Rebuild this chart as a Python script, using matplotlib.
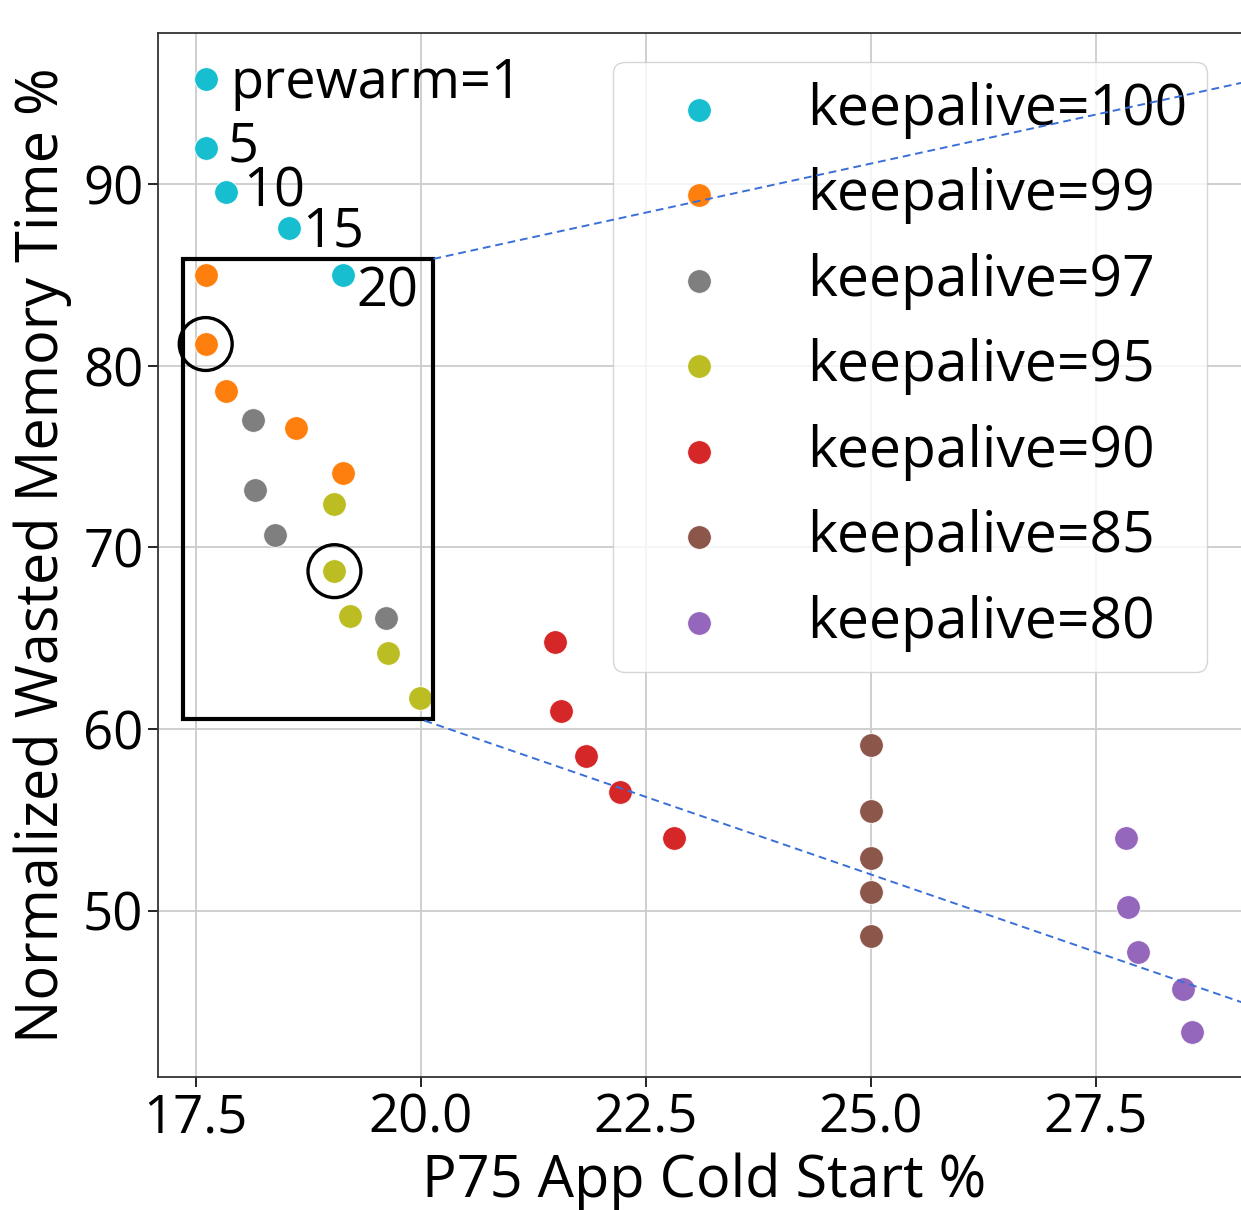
import matplotlib
matplotlib.use("Agg")
import matplotlib.pyplot as plt
from matplotlib.patches import Rectangle

plt.rcParams['font.family'] = ['Open Sans', 'DejaVu Sans']

# P75 app cold start % (x) vs normalized wasted memory time % (y)
# one series per keepalive percentile, points ordered by prewarm = 1, 5, 10, 15, 20
labels = ["keepalive=100", "keepalive=99", "keepalive=97", "keepalive=95",
          "keepalive=90", "keepalive=85", "keepalive=80"]
colors = ["tab:cyan", "tab:orange", "tab:gray", "tab:olive",
          "tab:red", "tab:brown", "tab:purple"]

ka100_x = [17.61, 17.61, 17.83, 18.53, 19.13]
ka100_y = [95.8, 92.0, 89.6, 87.6, 85.0]
ka99_x = [17.61, 17.61, 17.83, 18.61, 19.13]
ka99_y = [85.0, 81.2, 78.6, 76.6, 74.1]
ka97_x = [18.14, 18.16, 18.38, 19.61]
ka97_y = [77.0, 73.15, 70.66, 66.1]
ka95_x = [19.04, 19.04, 19.21, 19.63, 19.99]
ka95_y = [72.41, 68.69, 66.2, 64.18, 61.7]
ka90_x = [21.49, 21.56, 21.83, 22.21, 22.81]
ka90_y = [64.77, 61.0, 58.5, 56.5, 54.0]
ka85_x = [25.0, 25.0, 25.0, 25.0, 25.0]
ka85_y = [59.1, 55.5, 52.9, 51.0, 48.6]
ka80_x = [27.83, 27.86, 27.97, 28.47, 28.57]
ka80_y = [54.0, 50.2, 47.7, 45.7, 43.3]

xs = [ka100_x, ka99_x, ka97_x, ka95_x, ka90_x, ka85_x, ka80_x]
ys = [ka100_y, ka99_y, ka97_y, ka95_y, ka90_y, ka85_y, ka80_y]

prewarm_labels = ["prewarm=1", "5", "10", "15", "20"]
# text offsets (points) for the prewarm labels
prewarm_offsets = [(18, -3), (16, 1), (13, 0), (10, -3), (10, -12)]

# highlighted points (circled)
hl_x = [17.61, 19.04]
hl_y = [81.2, 68.69]

# zoom box and its connector lines
box_x = [17.36, 20.14]
box_y = [60.57, 85.89]
conn_top_x = [20.14, 29.25]
conn_top_y = [85.89, 95.73]
conn_bot_x = [20.04, 29.25]
conn_bot_y = [60.46, 44.72]

fig = plt.figure(figsize=(12.41, 12.10), dpi=100)
ax = fig.add_axes([158/1241, 1 - 1077/1210, (1250 - 158)/1241, (1077 - 33)/1210])

for x, y, c, lab in zip(xs, ys, colors, labels):
    ax.scatter(x, y, s=290, color=c, edgecolor="white", linewidth=0.6,
               label=lab, zorder=3)

for i, t in enumerate(prewarm_labels):
    ax.annotate(t, (ka100_x[i], ka100_y[i]), xytext=prewarm_offsets[i],
                textcoords="offset points", fontsize=39, va="center", ha="left")

ax.scatter(hl_x, hl_y, s=1450, facecolor="none", edgecolor="black",
           linewidth=2.4, zorder=4)

ax.add_patch(Rectangle((box_x[0], box_y[0]), box_x[1] - box_x[0], box_y[1] - box_y[0],
                       fill=False, edgecolor="black", linewidth=3, zorder=4))
# connector lines are drawn above the legend, as in the original
ax.plot(conn_top_x, conn_top_y, ls=(0, (4, 2.5)), color="#3a6fd8", lw=1.4, zorder=6)
ax.plot(conn_bot_x, conn_bot_y, ls=(0, (4, 2.5)), color="#3a6fd8", lw=1.4, zorder=6)

ax.set_xlim(17.08, 29.21)
ax.set_ylim(40.83, 98.33)
ax.set_xticks([17.5, 20.0, 22.5, 25.0, 27.5])
ax.set_yticks([50, 60, 70, 80, 90])
ax.tick_params(labelsize=38, width=1.2, length=7)
ax.grid(True, color="#cccccc", linewidth=1.3)
ax.set_axisbelow(True)
for sp in ax.spines.values():
    sp.set_linewidth(1.3)
    sp.set_color("#333333")

ax.set_xlabel("P75 App Cold Start %", fontsize=41.5, labelpad=5)
ax.set_ylabel("Normalized Wasted Memory Time %", fontsize=41.5, labelpad=8)

leg = ax.legend(loc="upper right", bbox_to_anchor=(1207/1241, 1 - 62/1210),
                bbox_transform=fig.transFigure, borderaxespad=0, fontsize=41,
                handlelength=2.3, handletextpad=0.75, labelspacing=0.5,
                borderpad=0.35, framealpha=0.8, fancybox=True)
leg.set_zorder(5)

fig.savefig("out.png", dpi=100)
